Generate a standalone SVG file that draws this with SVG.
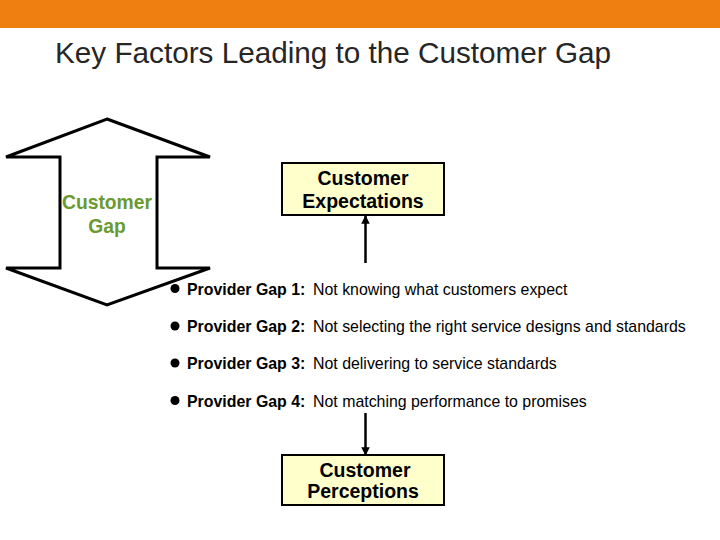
<svg xmlns="http://www.w3.org/2000/svg" width="720" height="540" viewBox="0 0 720 540">
  <style>
    .title { font-family: "Liberation Sans", Arial, sans-serif; font-size: 29.7px; fill: #262626; }
    .box { fill: #FFFFCC; stroke: #000; stroke-width: 2; }
    .boxtxt { font-family: "Liberation Sans", Arial, sans-serif; font-size: 19.5px; font-weight: bold; fill: #000; text-anchor: middle; }
    .gap { font-family: "Liberation Sans", Arial, sans-serif; font-size: 19.3px; font-weight: bold; fill: #6A9A30; text-anchor: middle; }
    .lbl { font-family: "Liberation Sans", Arial, sans-serif; font-size: 15.9px; fill: #000; }
    .b { font-weight: bold; }
    .conn { stroke: #000; stroke-width: 2.5; fill: none; }
  </style>
  <defs>
    <marker id="ah" viewBox="0 0 10 10" refX="9" refY="5" markerWidth="3.4" markerHeight="3.4" orient="auto" markerUnits="strokeWidth">
      <path d="M0,0 L10,5 L0,10 z" fill="#000"/>
    </marker>
  </defs>
  <rect x="0" y="0" width="720" height="540" fill="#fff"/>
  <rect x="0" y="0" width="720" height="28" fill="#EE7F10"/>
  <text class="title" x="55" y="63">Key Factors Leading to the Customer Gap</text>

  <g id="customer-gap">
    <polygon points="107,119 210,157 157,157 157,268 210,268 107,305 6,268 60,268 60,157 6,157" fill="#fff" stroke="#000" stroke-width="3" stroke-linejoin="miter"/>
    <text class="gap" x="107" y="209">Customer</text>
    <text class="gap" x="107" y="233">Gap</text>
  </g>

  <g id="customer-expectations">
    <rect class="box" x="282" y="163" width="162" height="52"/>
    <text class="boxtxt" x="363" y="185">Customer</text>
    <text class="boxtxt" x="363" y="208">Expectations</text>
  </g>

  <g id="customer-perceptions">
    <rect class="box" x="282" y="455" width="162" height="50"/>
    <text class="boxtxt" x="365" y="477">Customer</text>
    <text class="boxtxt" x="363" y="498">Perceptions</text>
  </g>

  <g id="provider-gaps">
    <circle cx="175" cy="288.5" r="4.5" fill="#000"/>
    <text class="lbl b" x="187" y="294.5">Provider Gap 1:</text>
    <text class="lbl" x="313" y="294.5">Not knowing what customers expect</text>
    <circle cx="175" cy="326" r="4.5" fill="#000"/>
    <text class="lbl b" x="187" y="332">Provider Gap 2:</text>
    <text class="lbl" x="313" y="332">Not selecting the right service designs and standards</text>
    <circle cx="175" cy="363" r="4.5" fill="#000"/>
    <text class="lbl b" x="187" y="369">Provider Gap 3:</text>
    <text class="lbl" x="313" y="369">Not delivering to service standards</text>
    <circle cx="175" cy="400.5" r="4.5" fill="#000"/>
    <text class="lbl b" x="187" y="406.5">Provider Gap 4:</text>
    <text class="lbl" x="313" y="406.5">Not matching performance to promises</text>
  </g>

  <g id="connectors">
    <line class="conn" x1="365.5" y1="263" x2="365.5" y2="216" marker-end="url(#ah)"/>
    <line class="conn" x1="365.5" y1="413" x2="365.5" y2="455" marker-end="url(#ah)"/>
  </g>
</svg>
